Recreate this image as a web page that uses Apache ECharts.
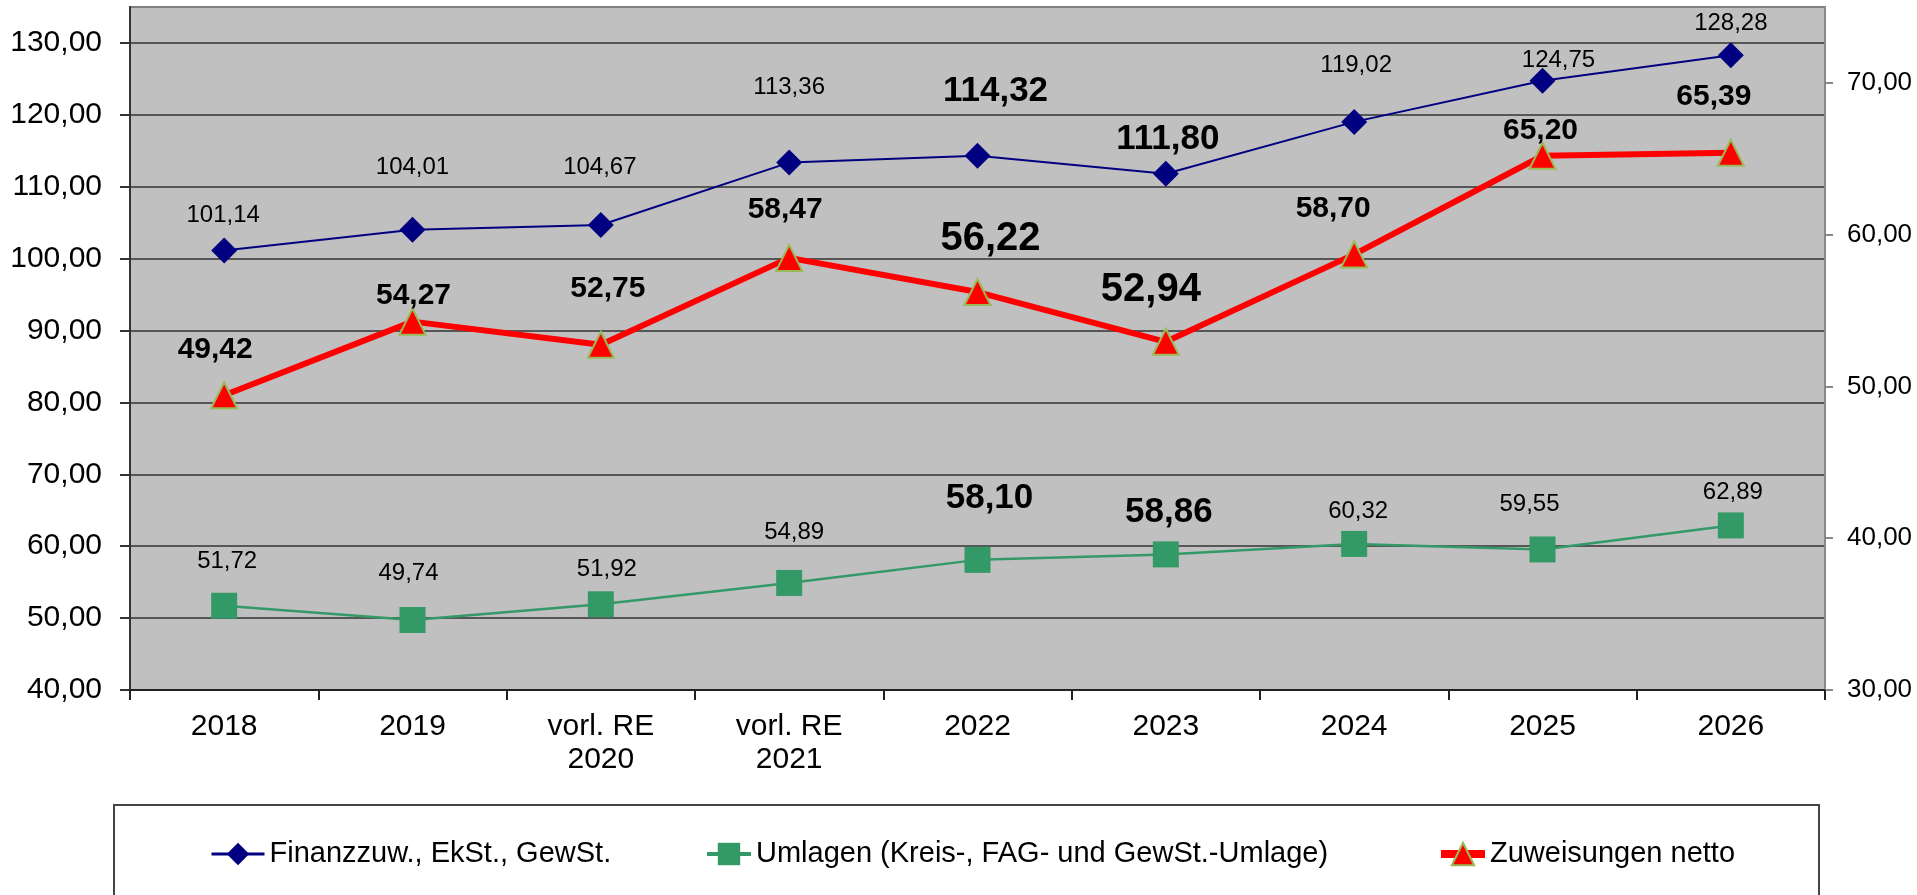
<!DOCTYPE html>
<html>
<head>
<meta charset="utf-8">
<script src="https://cdn.jsdelivr.net/npm/echarts@6/dist/echarts.min.js"></script>
<style>
  html,body{margin:0;padding:0;background:#fff;}
  #chart{width:1917px;height:895px;}
</style>
</head>
<body>
<div id="chart"></div>
<script>
// categories
var years = ['2018', '2019', 'vorl. RE\n2020', 'vorl. RE\n2021', '2022', '2023', '2024', '2025', '2026'];
// series values
var finanzzuw = [101.14, 104.01, 104.67, 113.36, 114.32, 111.80, 119.02, 124.75, 128.28];
var umlagen = [51.72, 49.74, 51.92, 54.89, 58.10, 58.86, 60.32, 59.55, 62.89];
var zuweisungen = [49.42, 54.27, 52.75, 58.47, 56.22, 52.94, 58.70, 65.20, 65.39];
// tick labels
var leftTicks = [40, 50, 60, 70, 80, 90, 100, 110, 120, 130];
var rightTicks = [30, 40, 50, 60, 70];
// which points get the big label
var bigIdx = [4, 5];

// label nudges (dx, dy from point)
var offBlue = [[-1,-35],[0,-62],[-1,-58],[0,-75],[18,-64],[2,-34],[2,-57],[16,-20],[0,-32]];
var offGreen = [[3,-44],[-4,-47],[6,-35],[5,-51],[12,-62],[3,-42],[4,-33],[-13,-45],[2,-33]];
var offRed = [[-9,-46],[1,-26],[7,-56],[-4,-48],[13,-53],[-15,-52],[-21,-46],[-2,-25],[-17,-56]];

var FONT = "'Liberation Sans', Arial, sans-serif";

function fmt(v){
    return Number(v).toFixed(2).replace('.', ',');
}

function makeData(arr, offs, normal, big){
    var out = [];
    for (var i = 0; i < arr.length; i++) {
        var isBig = bigIdx.indexOf(i) >= 0;
        var st = isBig ? big : normal;
        out.push({
            value: arr[i],
            label: {
                show: true,
                position: 'inside',
                offset: offs[i],
                fontSize: st.size,
                fontWeight: st.weight,
                fontFamily: FONT,
                color: '#000',
                formatter: function (p) { return fmt(p.value); }
            }
        });
    }
    return out;
}

function legendAt(x, w, name, lw){
    return {
        left: x, top: 837, padding: 0,
        itemWidth: w, itemHeight: 28, itemGap: 5,
        lineStyle: {width: lw},
        textStyle: {fontSize: 29, fontFamily: FONT, color: '#000', lineHeight: 34},
        data: [name]
    };
}

var myChart = echarts.init(document.getElementById('chart'));

var option = {
    backgroundColor: '#fff',
    animation: false,
    grid: {
        left: 130, right: 92, top: 7, bottom: 205,
        show: true,
        backgroundColor: '#c0c0c0',
        borderColor: '#808080',
        borderWidth: 2,
        outerBoundsMode: 'none'
    },
    xAxis: {
        type: 'category',
        data: years,
        boundaryGap: true,
        axisLine: {lineStyle: {color: '#222', width: 2}},
        axisTick: {show: true, length: 10, lineStyle: {color: '#222', width: 2}},
        axisLabel: {
            fontSize: 30, fontFamily: FONT, color: '#000',
            margin: 20, lineHeight: 33, interval: 0
        },
        splitLine: {show: false}
    },
    yAxis: [
        {
            type: 'value',
            min: 40, max: 135, interval: 10,
            position: 'left',
            axisLine: {show: true, lineStyle: {color: '#333', width: 2}},
            axisTick: {show: true, length: 10, customValues: leftTicks, lineStyle: {color: '#333', width: 2}},
            axisLabel: {
                fontSize: 30, fontFamily: FONT, color: '#000', margin: 28,
                customValues: leftTicks,
                formatter: function (v) { return fmt(v); }
            },
            splitLine: {show: true, lineStyle: {color: '#333', width: 1.5}}
        },
        {
            type: 'value',
            min: 30, max: 75, interval: 10,
            position: 'right',
            axisLine: {show: true, lineStyle: {color: '#888', width: 2}},
            axisTick: {show: true, length: 8, customValues: rightTicks, lineStyle: {color: '#888', width: 2}},
            axisLabel: {
                fontSize: 26, fontFamily: FONT, color: '#000', margin: 22,
                customValues: rightTicks,
                formatter: function (v) { return fmt(v); }
            },
            splitLine: {show: false}
        }
    ],
    legend: [
        legendAt(210, 53, 'Finanzzuw., EkSt., GewSt.', 3),
        legendAt(705, 44, 'Umlagen (Kreis-, FAG- und GewSt.-Umlage)', 4),
        legendAt(1437, 44, 'Zuweisungen netto', 8)
    ],
    graphic: [
        {
            type: 'rect',
            shape: {x: 114, y: 805, width: 1705, height: 120},
            style: {fill: 'none', stroke: '#444', lineWidth: 2},
            z: 0
        }
    ],
    series: [
        {
            name: 'Finanzzuw., EkSt., GewSt.',
            type: 'line',
            yAxisIndex: 0,
            symbol: 'diamond',
            symbolSize: 26,
            itemStyle: {color: '#000080'},
            lineStyle: {color: '#000080', width: 2},
            data: makeData(finanzzuw, offBlue, {size: 24, weight: 'normal'}, {size: 35, weight: 'bold'})
        },
        {
            name: 'Umlagen (Kreis-, FAG- und GewSt.-Umlage)',
            type: 'line',
            yAxisIndex: 0,
            symbol: 'rect',
            symbolSize: 26,
            itemStyle: {color: '#339966'},
            lineStyle: {color: '#339966', width: 2.5},
            data: makeData(umlagen, offGreen, {size: 24, weight: 'normal'}, {size: 35, weight: 'bold'})
        },
        {
            name: 'Zuweisungen netto',
            type: 'line',
            yAxisIndex: 1,
            symbol: 'triangle',
            symbolSize: 26,
            itemStyle: {color: '#ff0000', borderColor: '#99bb55', borderWidth: 2},
            lineStyle: {color: '#ff0000', width: 6},
            data: makeData(zuweisungen, offRed, {size: 30, weight: 'bold'}, {size: 40, weight: 'bold'})
        }
    ]
};

myChart.setOption(option);
</script>
</body>
</html>
